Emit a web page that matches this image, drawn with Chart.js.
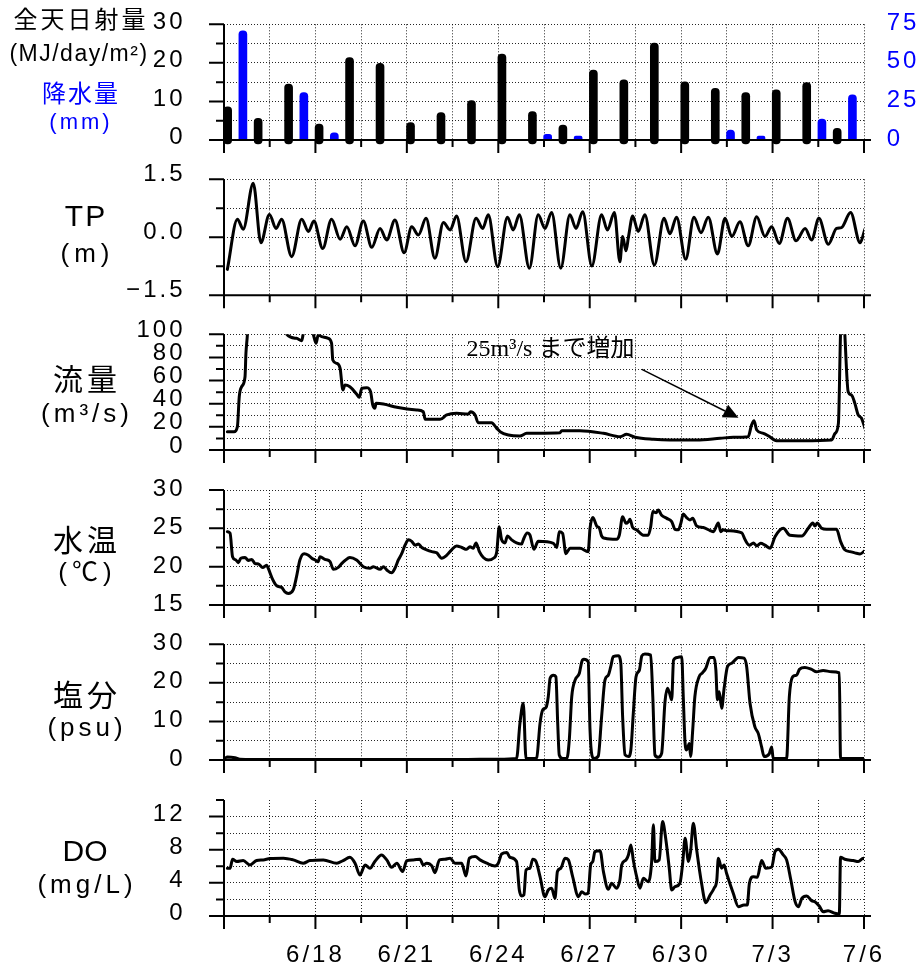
<!DOCTYPE html>
<html lang="ja">
<head>
<meta charset="utf-8">
<title>Observation chart</title>
<script src="https://cdn.jsdelivr.net/npm/chart.js@4.4.1/dist/chart.umd.min.js"></script>
<style>
html,body{margin:0;padding:0;background:#fff;}
#root{position:relative;width:922px;height:971px;overflow:hidden;background:#fff;}
#root canvas{position:absolute;left:0;}
.t{position:absolute;left:0;text-align:center;line-height:1;transform:translateY(-50%);font-family:"Liberation Sans","Noto Sans CJK JP",sans-serif;white-space:nowrap;color:#000;box-sizing:border-box;}
.blue{color:#0000ff;}
</style>
</head>
<body>
<div id="root">
  <div class="t" style="top:20px;width:162px;font-size:24px;letter-spacing:3px;">全天日射量</div>
  <div class="t" style="top:53px;width:158px;font-size:23px;letter-spacing:1.5px;">(MJ/day/m²)</div>
  <div class="t blue" style="top:94px;width:162px;font-size:24px;letter-spacing:2px;">降水量</div>
  <div class="t blue" style="top:122px;width:162px;font-size:22px;letter-spacing:3px;">(mm)</div>

  <div class="t" style="top:216px;width:170px;padding-left:2px;font-size:30px;letter-spacing:2px;">TP</div>
  <div class="t" style="top:253px;width:170px;padding-left:5px;font-size:26px;letter-spacing:5px;">(m)</div>

  <div class="t" style="top:380px;width:170px;padding-left:4px;font-size:30px;letter-spacing:4px;">流量</div>
  <div class="t" style="top:413px;width:170px;padding-left:4px;font-size:26px;letter-spacing:4px;">(m³/s)</div>

  <div class="t" style="top:541px;width:170px;padding-left:4px;font-size:30px;letter-spacing:4px;">水温</div>
  <div class="t" style="top:572px;width:170px;padding-left:5px;font-size:26px;letter-spacing:5px;">(℃)</div>

  <div class="t" style="top:696px;width:170px;padding-left:4px;font-size:30px;letter-spacing:4px;">塩分</div>
  <div class="t" style="top:727px;width:170px;padding-left:4px;font-size:26px;letter-spacing:4px;">(psu)</div>

  <div class="t" style="top:851px;width:170px;font-size:30px;">DO</div>
  <div class="t" style="top:884px;width:170px;padding-left:4px;font-size:26px;letter-spacing:4px;">(mg/L)</div>
</div>
<script>
// ---------------- data ----------------
// day index counted from 6/15 (0) to 7/5 (20)
const dayIndex = [0,1,2,3,4,5,6,7,8,9,10,11,12,13,14,15,16,17,18,19,20];
// daily solar radiation (MJ/day/m2)
const solarRadiation = [8.6,5.6,14.5,4.1,21.4,19.9,4.5,7.1,10.2,22.3,7.4,3.9,18.1,15.6,25.1,15.1,13.4,12.3,13.0,14.9,3.0];
// daily precipitation (mm)
const precipitation = [70.8,0,30.7,4.7,0,0,0,0,0,0,3.7,2.6,0,0,0,0,6.5,2.6,0,13.6,29.2];
// x-axis date labels at every 3 days (6/18 ... 7/6)
const dateLabels = ['6/18','6/21','6/24','6/27','6/30','7/3','7/6'];

// [day since 6/15 0:00, value]
const tideLevel = [[0.11,-0.83],[0.44,0.47],[0.63,0.21],[0.96,1.40],[1.21,-0.14],[1.49,0.59],[1.71,0.23],[1.89,0.47],[2.22,-0.50],[2.55,0.47],[2.77,0.15],[2.95,0.42],[3.24,-0.29],[3.53,0.47],[3.81,-0.05],[4.03,0.27],[4.30,-0.22],[4.57,0.42],[4.85,-0.26],[5.12,0.23],[5.34,-0.07],[5.61,0.45],[5.91,-0.40],[6.16,0.27],[6.38,0.06],[6.63,0.49],[6.92,-0.54],[7.20,0.38],[7.42,0.19],[7.63,0.55],[7.94,-0.63],[8.27,0.49],[8.49,0.23],[8.67,0.58],[8.98,-0.76],[9.30,0.52],[9.49,0.19],[9.69,0.58],[10.02,-0.80],[10.31,0.58],[10.53,0.23],[10.75,0.64],[11.05,-0.80],[11.35,0.58],[11.55,0.23],[11.77,0.66],[12.07,-0.74],[12.39,0.58],[12.58,0.19],[12.81,0.64],[12.99,-0.63],[13.08,0.02],[13.19,-0.35],[13.27,0.00],[13.41,0.55],[13.59,0.15],[13.81,0.58],[14.12,-0.72],[14.44,0.49],[14.63,0.09],[14.85,0.52],[15.15,-0.57],[15.42,0.52],[15.65,0.12],[15.89,0.52],[16.19,-0.43],[16.44,0.49],[16.66,0.02],[16.93,0.40],[17.20,-0.22],[17.48,0.53],[17.75,0.02],[17.97,0.27],[18.22,-0.16],[18.49,0.49],[18.77,-0.09],[19.07,0.23],[19.28,-0.07],[19.52,0.49],[19.83,-0.18],[20.10,0.23],[20.26,0.25],[20.56,0.64],[20.87,-0.14],[21.03,0.21]];

const riverFlow = [[0.11,15.8],[0.33,15.8],[0.44,20.2],[0.50,46],[0.58,54.7],[0.69,63.3],[0.72,83.6],[0.77,100.8],[1.0,240],[1.5,190],[1.9,130],[2.06,100],[2.38,96.5],[2.55,94.5],[2.6,100.5],[2.75,115],[2.93,100],[3.02,92.2],[3.09,99.4],[3.2,98],[3.42,96.5],[3.53,92.2],[3.57,77.8],[3.70,74.9],[3.81,70.6],[3.9,51.9],[3.97,56.2],[4.13,54.7],[4.35,48.4],[4.44,45.5],[4.52,53.3],[4.68,53.9],[4.81,50.4],[4.88,38.9],[4.95,36],[4.99,40.4],[5.23,39.8],[5.67,36.9],[6.32,34.6],[6.54,33.1],[6.6,26.5],[7.09,26.5],[7.31,30.3],[7.63,31.7],[8.02,31.1],[8.09,33.1],[8.24,30.3],[8.34,23.6],[8.78,23.6],[8.95,18.7],[9.06,15.8],[9.33,13],[9.71,12.1],[9.93,14.4],[11.03,15],[11.08,16.7],[11.68,16.7],[12.45,14.4],[13.0,11.5],[13.21,13.6],[13.49,11],[14.09,9.2],[14.63,8.6],[15.51,8.6],[16.28,10.1],[16.71,11],[17.2,11.5],[17.31,21.6],[17.39,25.3],[17.48,17.3],[17.7,14.4],[17.87,12.1],[18.13,8],[19.01,8],[19.94,8.6],[20.05,14.4],[20.16,23],[20.23,100.8],[20.3,140],[20.37,100.8],[20.48,50.4],[20.59,47.5],[20.70,40.3],[20.81,30.3],[20.92,27.4],[21.03,18.8]];

const waterTemp = [[0.11,24.56],[0.20,24.35],[0.28,21.3],[0.39,20.87],[0.47,20.52],[0.55,21.1],[0.69,21.2],[0.80,20.8],[0.91,20.95],[1.02,20.4],[1.13,20.35],[1.27,19.9],[1.40,20.2],[1.45,19.8],[1.60,18.3],[1.73,17.5],[1.89,17.3],[2.00,16.7],[2.11,16.5],[2.27,16.96],[2.38,18.7],[2.49,20.87],[2.63,21.7],[2.77,21.5],[2.88,21.1],[2.99,20.87],[3.09,20.65],[3.15,21.3],[3.31,20.96],[3.48,20.65],[3.59,19.65],[3.75,19.9],[3.86,20.4],[3.97,20.8],[4.13,21.2],[4.35,20.87],[4.57,20.0],[4.79,19.8],[4.90,20.0],[5.12,19.65],[5.23,20.0],[5.34,19.57],[5.50,19.2],[5.61,19.8],[5.72,20.87],[5.83,21.7],[5.94,22.8],[6.05,23.5],[6.16,23.3],[6.27,22.8],[6.38,22.96],[6.49,22.5],[6.65,22.2],[6.82,21.96],[6.98,21.8],[7.14,21.1],[7.31,21.5],[7.47,22.2],[7.63,22.7],[7.80,22.5],[7.96,22.26],[8.07,22.6],[8.18,22.4],[8.27,23.1],[8.38,21.96],[8.51,21.2],[8.67,20.87],[8.84,21.1],[8.95,21.96],[9.03,25.2],[9.11,23.5],[9.22,23.1],[9.30,24.0],[9.44,23.5],[9.60,23.1],[9.77,22.96],[9.82,23.5],[9.95,24.4],[10.04,24.1],[10.17,22.26],[10.31,23.3],[10.81,23.05],[10.92,22.5],[11.00,24.56],[11.11,24.35],[11.22,21.7],[11.35,22.4],[11.68,22.4],[11.95,21.96],[12.01,25.0],[12.10,26.4],[12.23,25.3],[12.32,25.0],[12.39,24.0],[12.50,23.7],[12.88,23.57],[12.97,24.1],[13.08,26.5],[13.19,25.65],[13.27,25.87],[13.32,26.2],[13.41,25.1],[13.54,24.8],[13.76,24.1],[13.92,24.1],[14.0,25.2],[14.07,27.2],[14.18,27.04],[14.25,27.4],[14.36,26.7],[14.53,26.3],[14.69,25.87],[14.80,24.87],[14.91,24.8],[14.99,25.65],[15.07,26.87],[15.18,26.4],[15.29,26.1],[15.38,26.3],[15.51,25.3],[15.73,25.1],[15.95,24.7],[16.06,24.56],[16.22,25.7],[16.30,24.56],[16.38,24.8],[16.49,24.7],[16.99,24.4],[17.10,23.5],[17.24,22.8],[17.37,23.1],[17.48,22.7],[17.61,23.05],[17.75,22.8],[17.92,22.4],[18.08,23.9],[18.35,25.0],[18.57,24.1],[18.96,24.0],[19.17,25.0],[19.32,25.7],[19.39,25.3],[19.47,25.7],[19.61,25.0],[19.77,24.87],[20.10,24.87],[20.23,23.3],[20.37,22.2],[20.54,21.96],[20.70,21.8],[20.87,21.65],[21.03,22.1]];

const salinity = [[0.04,0.5],[0.11,0.8],[0.36,0.6],[0.52,0.2],[1.0,0.15],[2.0,0.1],[3.0,0.1],[4.0,0.15],[5.0,0.1],[6.0,0.15],[7.0,0.1],[8.0,0.15],[9.0,0.2],[9.60,0.4],[9.71,9.5],[9.82,14.7],[9.91,0.4],[10.2,0.4],[10.26,0.6],[10.37,9.5],[10.46,13.0],[10.57,13.7],[10.64,16.4],[10.70,21.2],[10.81,22.0],[10.89,21.6],[10.95,9.5],[11.0,1.3],[11.11,0.4],[11.25,0.4],[11.33,5.2],[11.41,16.4],[11.52,20.7],[11.66,22.5],[11.74,25.5],[11.81,26.1],[11.95,25.5],[12.01,7.8],[12.07,1.3],[12.14,0.4],[12.28,1.0],[12.39,11.2],[12.50,20.7],[12.61,22.0],[12.69,24.2],[12.77,26.8],[12.94,27.0],[13.02,25.1],[13.08,11.2],[13.16,1.3],[13.27,0.9],[13.35,2.6],[13.43,12.1],[13.52,21.6],[13.63,23.3],[13.71,27.0],[13.81,27.5],[14.0,27.2],[14.07,16.4],[14.14,1.3],[14.25,0.7],[14.36,1.7],[14.47,15.1],[14.55,18.6],[14.62,17.3],[14.69,15.6],[14.75,25.9],[14.88,26.6],[15.02,26.8],[15.07,16.4],[15.13,4.3],[15.18,2.6],[15.27,4.3],[15.31,0.9],[15.38,7.8],[15.45,16.4],[15.59,21.6],[15.70,22.6],[15.81,23.8],[15.95,26.6],[16.08,26.6],[16.14,23.3],[16.19,15.6],[16.25,17.7],[16.33,13.4],[16.41,18.6],[16.52,24.2],[16.66,25.1],[16.88,26.6],[17.06,26.4],[17.15,24.2],[17.26,14.7],[17.42,8.6],[17.53,6.9],[17.64,3.4],[17.72,0.9],[17.89,1.6],[17.97,3.4],[18.02,0.4],[18.46,0.4],[18.55,16.4],[18.66,21.6],[18.79,22.0],[18.88,23.5],[19.06,24.0],[19.28,23.5],[19.44,22.9],[19.66,23.2],[19.94,22.9],[20.19,22.6],[20.23,0.4],[21.03,0.4]];

const dissolvedOxygen = [[0.11,5.76],[0.20,5.76],[0.28,6.85],[0.42,6.57],[0.63,6.69],[0.85,6.16],[1.07,6.69],[1.29,6.77],[1.51,6.93],[1.95,6.97],[2.27,6.77],[2.60,6.37],[2.82,6.69],[3.26,6.77],[3.70,6.37],[3.91,6.69],[4.13,7.09],[4.30,6.37],[4.46,4.95],[4.63,6.16],[4.79,5.76],[4.95,6.57],[5.17,7.37],[5.34,6.77],[5.50,5.88],[5.67,6.37],[5.86,5.36],[6.0,6.69],[6.21,6.77],[6.43,6.85],[6.54,6.16],[6.65,6.37],[6.82,6.04],[6.92,5.23],[7.07,6.77],[7.25,6.85],[7.42,6.97],[7.58,6.37],[7.80,6.37],[7.94,4.83],[8.05,6.97],[8.24,7.17],[8.40,6.77],[8.62,6.37],[8.89,6.04],[9.0,6.37],[9.11,7.49],[9.28,7.65],[9.38,7.09],[9.60,6.57],[9.69,3.14],[9.77,2.42],[9.84,2.54],[9.91,5.56],[10.04,5.76],[10.13,6.85],[10.24,6.57],[10.37,4.75],[10.53,2.33],[10.64,3.14],[10.75,3.35],[10.86,2.14],[10.94,5.36],[11.05,5.76],[11.19,6.97],[11.30,6.77],[11.44,4.75],[11.63,2.33],[11.74,2.94],[11.85,2.66],[11.95,2.74],[12.03,6.16],[12.10,6.57],[12.17,7.77],[12.34,7.89],[12.45,5.36],[12.61,3.23],[12.72,3.95],[12.88,3.35],[12.99,4.35],[13.05,6.16],[13.19,6.77],[13.27,7.37],[13.35,8.58],[13.43,6.77],[13.54,4.75],[13.65,3.35],[13.76,4.55],[13.92,4.14],[14.03,6.44],[14.09,11.0],[14.14,6.57],[14.28,6.77],[14.39,11.4],[14.50,9.18],[14.61,5.76],[14.69,3.14],[14.80,3.54],[14.96,3.95],[15.05,6.37],[15.13,9.39],[15.24,6.57],[15.31,7.77],[15.40,11.2],[15.51,7.98],[15.67,3.95],[15.81,1.61],[15.95,2.54],[16.08,3.35],[16.17,4.35],[16.22,6.97],[16.33,5.76],[16.41,6.16],[16.49,5.16],[16.71,2.74],[16.88,1.12],[17.06,1.33],[17.17,1.33],[17.24,3.95],[17.37,4.75],[17.50,4.67],[17.64,6.69],[17.78,5.76],[17.97,5.88],[18.08,7.77],[18.19,8.06],[18.35,7.37],[18.46,6.77],[18.60,4.35],[18.74,1.73],[18.85,1.12],[18.96,2.14],[19.12,2.42],[19.28,1.85],[19.39,1.73],[19.53,1.21],[19.66,0.52],[19.82,0.64],[20.04,0.33],[20.19,0.24],[20.23,7.09],[20.37,6.85],[20.65,6.69],[20.81,6.57],[20.98,6.97],[21.03,6.85]];

// annotation on the flow panel
const flowNoteText = '25m³/s まで増加';
const flowNoteAt = [7.96, 81.2];
const flowArrowFrom = [13.71, 69.7];
const flowArrowTo = [16.88, 27.9];

// ---------------- drawing ----------------
const root = document.getElementById('root');
const GRID_COLOR = 'rgba(0,0,0,0.85)';
const CLEAR = 'rgba(0,0,0,0)';
const FONT_FAMILY = '"Liberation Sans", Arial, sans-serif';
const TICK_FONT = {family: FONT_FAMILY, size: 24, lineHeight: 1.2};
const BLUE = '#0000ff';
const SOLAR_SHIFT = 0.12, RAIN_SHIFT = 0.62;

function isMultiple(v, step) { const r = v / step; return Math.abs(r - Math.round(r)) < 1e-6; }
function dateLabel(v) {
  if (v <= 0 || !isMultiple(v, 3)) return '';
  return dateLabels[Math.round(v / 3) - 1] || '';
}
function noPad(s) { s.paddingTop = 0; s.paddingBottom = 0; s.paddingLeft = 0; s.paddingRight = 0; }

const axesPlugin = {
  id: 'axesDraw',
  beforeDraw(chart) { chart.ctx.letterSpacing = '3px'; },
  afterDatasetsDraw(chart) {
    const p = chart.canvas._panel;
    const yc = p.y;
    const {ctx, chartArea: a, scales} = chart;
    const xs = scales.x, ys = scales.y;
    ctx.save();
    ctx.strokeStyle = '#000';
    ctx.lineWidth = 2;
    ctx.beginPath();
    ctx.moveTo(a.left, a.top); ctx.lineTo(a.left, a.bottom);
    ctx.moveTo(a.left, a.bottom); ctx.lineTo(a.right + 7, a.bottom);
    ys.ticks.forEach(t => {
      const py = ys.getPixelForValue(t.value);
      const len = isMultiple(t.value, yc.labelStep) ? 15 : 8;
      ctx.moveTo(a.left - len, py); ctx.lineTo(a.left, py);
    });
    xs.ticks.forEach(t => {
      const px = xs.getPixelForValue(t.value);
      const len = isMultiple(t.value, 3) ? 13 : 7;
      ctx.moveTo(px, a.bottom); ctx.lineTo(px, a.bottom + len);
    });
    ctx.stroke();

    // y tick labels
    ctx.letterSpacing = '3px';
    ctx.font = '24px ' + FONT_FAMILY;
    ctx.textBaseline = 'middle';
    ctx.textAlign = 'right';
    ctx.fillStyle = '#000';
    ys.ticks.forEach(t => {
      if (!isMultiple(t.value, yc.labelStep)) return;
      ctx.fillText(yc.fmt(t.value), a.left - 38.5, ys.getPixelForValue(t.value) + yc.labelOffset);
    });
    if (scales.y2) {
      const y2 = scales.y2;
      ctx.textAlign = 'left';
      ctx.fillStyle = BLUE;
      y2.ticks.forEach(t => {
        ctx.fillText(String(t.value), a.right + 22.7, y2.getPixelForValue(t.value) - 1);
      });
    }
    ctx.restore();
  }
};

const notePlugin = {
  id: 'flowNote',
  afterDatasetsDraw(chart) {
    const {ctx, scales: {x, y}} = chart;
    ctx.save();
    ctx.letterSpacing = '0px';
    ctx.fillStyle = '#000';
    ctx.font = '24px "Liberation Serif", "Noto Sans CJK JP", serif';
    ctx.textAlign = 'left';
    ctx.textBaseline = 'alphabetic';
    ctx.fillText(flowNoteText, x.getPixelForValue(flowNoteAt[0]), y.getPixelForValue(flowNoteAt[1]));
    const x0 = x.getPixelForValue(flowArrowFrom[0]), y0 = y.getPixelForValue(flowArrowFrom[1]);
    const x1 = x.getPixelForValue(flowArrowTo[0]), y1 = y.getPixelForValue(flowArrowTo[1]);
    const ang = Math.atan2(y1 - y0, x1 - x0);
    const L = 15, W = 7;
    const bx = x1 - L * Math.cos(ang), by = y1 - L * Math.sin(ang);
    ctx.strokeStyle = '#000';
    ctx.lineWidth = 1.5;
    ctx.beginPath(); ctx.moveTo(x0, y0); ctx.lineTo(bx, by); ctx.stroke();
    ctx.beginPath();
    ctx.moveTo(x1, y1);
    ctx.lineTo(bx - W * Math.sin(ang), by + W * Math.cos(ang));
    ctx.lineTo(bx + W * Math.sin(ang), by - W * Math.cos(ang));
    ctx.closePath(); ctx.fill();
    ctx.restore();
  }
};

function lineSet(series) {
  return {
    type: 'line',
    data: series.map(([d, v]) => ({x: d, y: v})),
    borderColor: '#000', borderWidth: 3, pointRadius: 0,
    cubicInterpolationMode: 'monotone', fill: false,
    borderJoinStyle: 'round', borderCapStyle: 'round'
  };
}

function buildPanel(p) {
  const T = Math.floor(p.areaTop) - 17;
  const H = Math.ceil(p.areaBottom + p.bottomSpace) - T;
  const xH = T + H - p.areaBottom;
  const padTop = p.areaTop - T;
  const cv = document.createElement('canvas');
  cv.width = 922; cv.height = H;
  cv.style.top = T + 'px'; cv.style.width = '922px'; cv.style.height = H + 'px';
  cv._panel = p;
  root.insertBefore(cv, root.firstChild);

  const yc = p.y;
  const scales = {
    x: {
      type: 'linear', min: 0, max: 21, offset: false,
      afterFit: s => { s.height = xH; noPad(s); },
      ticks: {stepSize: 1.5, autoSkip: false, display: !!p.showDates, font: TICK_FONT, color: '#000',
              padding: 24.6, maxRotation: 0, minRotation: 0, callback: v => dateLabel(v)},
      grid: {drawTicks: false, offset: false, lineWidth: 1,
             color: c => (c.tick && c.tick.value > 0.01) ? GRID_COLOR : CLEAR},
      border: {display: false, dash: [1, 2]}
    },
    y: {
      type: 'linear', position: 'left', min: yc.min, max: yc.max,
      afterFit: s => { s.width = 224; noPad(s); },
      ticks: {stepSize: yc.step, autoSkip: false, display: false},
      grid: {drawTicks: false, lineWidth: 1,
             color: c => (c.tick && c.tick.value > yc.min + 1e-6 && c.tick.value <= yc.gridMax + 1e-6) ? GRID_COLOR : CLEAR},
      border: {display: false, dash: [1, 2]}
    }
  };
  if (p.y2) {
    scales.y2 = {
      type: 'linear', position: 'right', min: p.y2.min, max: p.y2.max,
      afterFit: s => { s.width = 58; noPad(s); },
      ticks: {stepSize: p.y2.step, autoSkip: false, display: false},
      grid: {display: false, drawTicks: false},
      border: {display: false}
    };
  }
  const plugins = [axesPlugin];
  if (p.note) plugins.push(notePlugin);
  return new Chart(cv, {
    type: p.type || 'line',
    data: {datasets: p.datasets},
    options: {
      responsive: false, animation: false, events: [],
      layout: {padding: {top: padTop, bottom: 0, left: 0, right: p.y2 ? 0 : 58}},
      scales,
      plugins: {legend: {display: false}, tooltip: {enabled: false}}
    },
    plugins
  });
}

const num = v => String(Math.round(v));
const panels = [
  {
    type: 'bar', areaTop: 24.3, areaBottom: 140, bottomSpace: 40,
    y: {min: 0, max: 30, step: 5, labelStep: 10, gridMax: 30, labelOffset: -2.3, fmt: num},
    y2: {min: 0, max: 75, step: 25},
    datasets: [
      {type: 'bar', label: '全天日射量', yAxisID: 'y', grouped: false, clip: false,
       data: dayIndex.map((d, i) => ({x: d + SOLAR_SHIFT, y: solarRadiation[i]})),
       backgroundColor: '#000', barThickness: 8, borderRadius: 4, borderSkipped: false, base: -1.0},
      {type: 'bar', label: '降水量', yAxisID: 'y2', grouped: false, clip: false,
       data: dayIndex.map((d, i) => ({x: d + RAIN_SHIFT, y: precipitation[i]})),
       backgroundColor: BLUE, barThickness: 8, borderRadius: {topLeft: 4, topRight: 4, bottomLeft: 0, bottomRight: 0}, borderSkipped: 'start'}
    ]
  },
  {
    areaTop: 179.3, areaBottom: 295.3, bottomSpace: 40,
    y: {min: -1.5, max: 1.5, step: 0.75, labelStep: 1.5, gridMax: 1.5, labelOffset: -5,
        fmt: v => (Math.abs(v) < 1e-9 ? '0.0' : (v < 0 ? '\u2212' : '') + Math.abs(v).toFixed(1))},
    datasets: [lineSet(tideLevel)]
  },
  {
    areaTop: 334.3, areaBottom: 450, bottomSpace: 40, note: true,
    y: {min: 0, max: 100, step: 10, labelStep: 20, gridMax: 100, labelOffset: -4, fmt: num},
    datasets: [lineSet(riverFlow)]
  },
  {
    areaTop: 490, areaBottom: 605, bottomSpace: 40,
    y: {min: 15, max: 30, step: 2.5, labelStep: 5, gridMax: 30, labelOffset: -0.5, fmt: num},
    datasets: [lineSet(waterTemp)]
  },
  {
    areaTop: 644.3, areaBottom: 760, bottomSpace: 40,
    y: {min: 0, max: 30, step: 5, labelStep: 10, gridMax: 30, labelOffset: -1, fmt: num},
    datasets: [lineSet(salinity)]
  },
  {
    areaTop: 800, areaBottom: 916, bottomSpace: 55, showDates: true,
    y: {min: 0, max: 14, step: 2, labelStep: 4, gridMax: 12, labelOffset: -2.5, fmt: num},
    datasets: [lineSet(dissolvedOxygen)]
  }
];
panels.forEach(buildPanel);
</script>
</body>
</html>
